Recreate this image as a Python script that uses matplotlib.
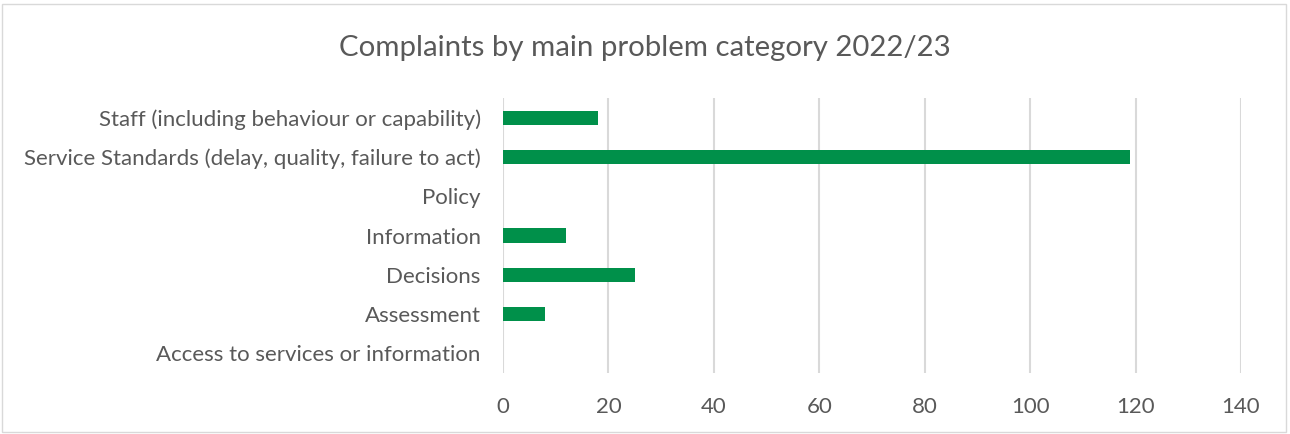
import matplotlib.pyplot as plt
from matplotlib.patches import Rectangle

categories = ['Access to services or information', 'Assessment', 'Decisions',
              'Information', 'Policy', 'Service Standards (delay, quality, failure to act)',
              'Staff (including behaviour or capability)']
counts = [0, 8, 25, 12, 0, 119, 18]
xticks = [0, 20, 40, 60, 80, 100, 120, 140]

plt.rcParams['font.family'] = ['Lato', 'DejaVu Sans']
grey = '#595959'

fig = plt.figure(figsize=(12.9, 4.34), dpi=100)
ax = fig.add_axes([503/1290, 1 - 373/434, (1241-503)/1290, 275/434])

ax.barh(range(len(categories)), counts, height=0.36, color='#00904A', zorder=3)
ax.set_xlim(0, 140)
ax.set_ylim(-0.5, len(categories) - 0.5)
ax.set_xticks(xticks)
ax.set_yticks(range(len(categories)))
ax.set_yticklabels(categories)
ax.tick_params(length=0, labelsize=16, colors=grey)
ax.tick_params(axis='y', pad=16)
ax.tick_params(axis='x', pad=17)
ax.grid(axis='x', color='#D9D9D9', linewidth=1.5, zorder=0)
for s in ax.spines.values():
    s.set_visible(False)

fig.text(0.5, 1 - 48/434, 'Complaints by main problem category 2022/23',
         ha='center', va='center', fontsize=21.2, color=grey)
fig.patches.append(Rectangle((2/1290, 2/434), 1284/1290, 428/434, transform=fig.transFigure,
                             fill=False, edgecolor='#D9D9D9', linewidth=1))

fig.savefig('out.png', dpi=100)
